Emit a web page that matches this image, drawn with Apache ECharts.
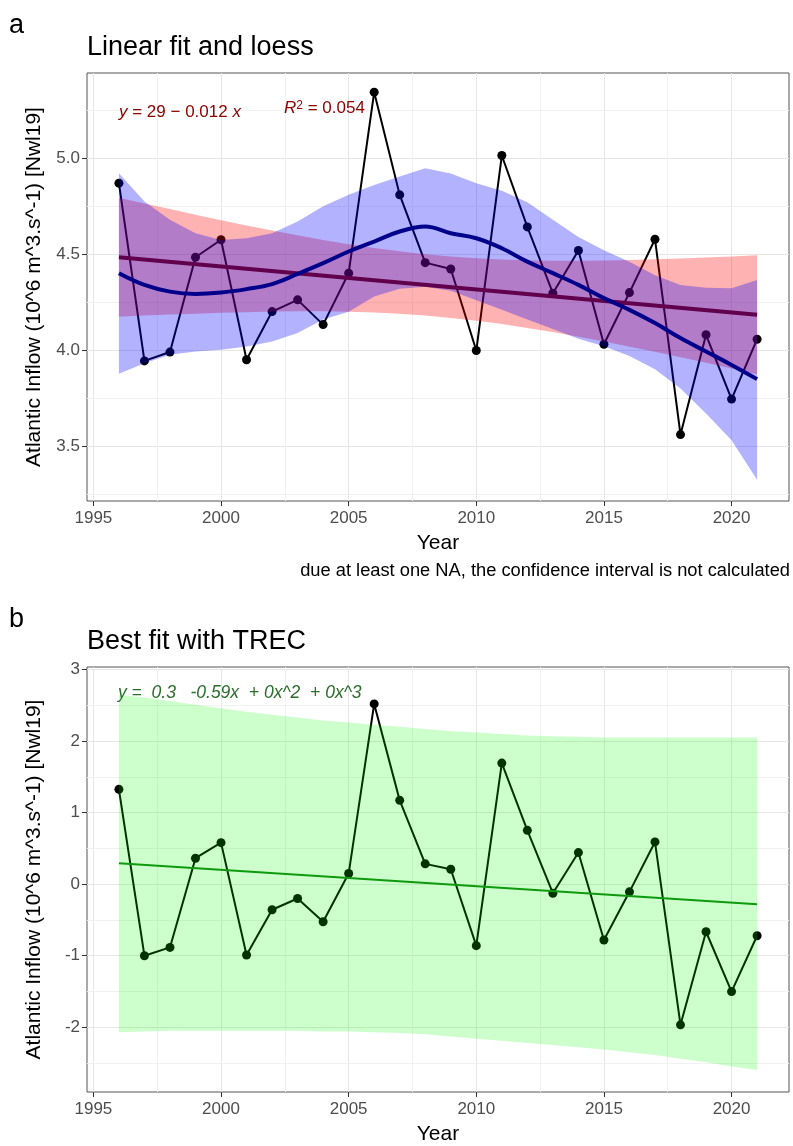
<!DOCTYPE html>
<html>
<head>
<meta charset="utf-8">
<script src="https://cdn.jsdelivr.net/npm/echarts@6/dist/echarts.min.js"></script>
<style>
  html, body { margin: 0; padding: 0; background: #fff; }
  #chart { width: 793px; height: 1146px; }
</style>
</head>
<body>
<div id="chart"></div>
<script>
// years and values
const years = [1996, 1997, 1998, 1999, 2000, 2001, 2002, 2003, 2004, 2005, 2006, 2007, 2008,
  2009, 2010, 2011, 2012, 2013, 2014, 2015, 2016, 2017, 2018, 2019, 2020, 2021]

const inflow = [4.870, 3.944, 3.990, 4.484, 4.575, 3.950, 4.201, 4.262, 4.133, 4.401, 5.344, 4.809, 4.456,
  4.423, 3.998, 5.014, 4.642, 4.297, 4.519, 4.031, 4.300, 4.578, 3.560, 4.080, 3.745, 4.057]

// linear fit end points and its confidence band
const linFitEnds = [[1996, 4.484], [2021, 4.184]]
const linLower = [4.174, 4.180, 4.186, 4.190, 4.195, 4.198, 4.201, 4.202, 4.202, 4.200, 4.196, 4.189, 4.180,
  4.168, 4.153, 4.136, 4.116, 4.094, 4.070, 4.045, 4.018, 3.991, 3.963, 3.934, 3.904, 3.874]
const linUpper = [4.794, 4.764, 4.735, 4.706, 4.677, 4.650, 4.623, 4.598, 4.574, 4.552, 4.532, 4.515, 4.500,
  4.488, 4.479, 4.472, 4.468, 4.466, 4.466, 4.467, 4.470, 4.473, 4.478, 4.483, 4.488, 4.494]

// loess curve and band
const loess = [4.401, 4.340, 4.305, 4.293, 4.300, 4.318, 4.344, 4.397, 4.453, 4.514, 4.566, 4.618, 4.644,
  4.609, 4.583, 4.531, 4.461, 4.401, 4.340, 4.271, 4.210, 4.141, 4.063, 3.993, 3.923, 3.849]
const loessLower = [3.877, 3.932, 3.976, 3.993, 4.002, 4.019, 4.045, 4.089, 4.160, 4.200, 4.280, 4.320, 4.330,
  4.310, 4.260, 4.210, 4.160, 4.110, 4.060, 4.020, 3.970, 3.900, 3.800, 3.670, 3.530, 3.325]
const loessUpper = [4.922, 4.774, 4.679, 4.609, 4.574, 4.583, 4.609, 4.670, 4.750, 4.810, 4.860, 4.905, 4.948,
  4.920, 4.870, 4.830, 4.770, 4.680, 4.590, 4.520, 4.460, 4.390, 4.340, 4.325, 4.323, 4.366]

// panel b: anomalies, TREC fit and band
const anomaly = [1.326, -1.000, -0.884, 0.363, 0.581, -0.991, -0.358, -0.200, -0.525, 0.149, 2.521, 1.172, 0.284,
  0.209, -0.860, 1.693, 0.753, -0.126, 0.442, -0.781, -0.107, 0.591, -1.967, -0.665, -1.502, -0.721]
const trecFitEnds = [[1996, 0.293], [2021, -0.279]]
const trecLower = [-2.07, -2.06, -2.05, -2.05, -2.05, -2.05, -2.05, -2.05, -2.06, -2.06, -2.07, -2.08, -2.10,
  -2.13, -2.16, -2.19, -2.22, -2.25, -2.28, -2.31, -2.35, -2.39, -2.44, -2.49, -2.55, -2.60]
const trecUpper = [2.65, 2.61, 2.56, 2.51, 2.46, 2.41, 2.37, 2.33, 2.29, 2.26, 2.23, 2.20, 2.17,
  2.14, 2.12, 2.10, 2.08, 2.07, 2.06, 2.05, 2.05, 2.05, 2.05, 2.05, 2.05, 2.05]

const xTicks = [1995, 2000, 2005, 2010, 2015, 2020]
const xMinor = [1997.5, 2002.5, 2007.5, 2012.5, 2017.5]
const yTicksA = [3.5, 4.0, 4.5, 5.0]
const yMinorA = [3.25, 3.75, 4.25, 4.75, 5.25]
const yTicksB = [-2, -1, 0, 1, 2, 3]
const yMinorB = [-2.5, -1.5, -0.5, 0.5, 1.5, 2.5]

const FONT = 'Liberation Sans, Arial, sans-serif'
const pairs = (vals) => years.map((y, i) => [y, vals[i]])

function xAxisCfg(gi) {
  return {
    type: 'value', gridIndex: gi, min: 1994.75, max: 2022.25,
    name: 'Year', nameLocation: 'middle', nameGap: 32,
    nameTextStyle: { color: '#000', fontSize: 21, fontFamily: FONT },
    axisLine: { show: false, onZero: false },
    axisTick: { show: true, length: 5, customValues: xTicks, lineStyle: { color: '#333', width: 1 } },
    axisLabel: { customValues: xTicks, color: '#4d4d4d', fontSize: 17, fontFamily: FONT, margin: 9,
      formatter: (v) => String(v) },
    splitLine: { show: true, lineStyle: { color: '#e6e6e6', width: 1 } }
  }
}

function yAxisCfg(gi, min, max, ticks) {
  return {
    type: 'value', gridIndex: gi, min: min, max: max,
    name: 'Atlantic Inflow (10^6 m^3.s^-1) [Nwl19]', nameLocation: 'middle', nameGap: 42,
    nameTextStyle: { color: '#000', fontSize: 21, fontFamily: FONT },
    axisLine: { show: false, onZero: false },
    axisTick: { show: true, length: 5, customValues: ticks, lineStyle: { color: '#333', width: 1 } },
    axisLabel: { customValues: ticks, color: '#4d4d4d', fontSize: 17, fontFamily: FONT, margin: 7,
      formatter: (v) => (gi === 0 ? v.toFixed(1) : String(v)) },
    splitLine: { show: true, lineStyle: { color: '#e6e6e6', width: 1 } }
  }
}

// faint minor grid lines, drawn under everything
function minorGrid(gi, yMinor) {
  return {
    type: 'line', xAxisIndex: gi, yAxisIndex: gi, data: [], silent: true, z: 0,
    markLine: {
      silent: true, symbol: 'none', z: 0, animation: false,
      label: { show: false },
      lineStyle: { color: '#f1f1f1', width: 1, type: 'solid' },
      data: xMinor.map((v) => ({ xAxis: v })).concat(yMinor.map((v) => ({ yAxis: v })))
    }
  }
}

function band(gi, lower, upper, color, z) {
  return {
    type: 'custom', xAxisIndex: gi, yAxisIndex: gi, silent: true, z: z,
    data: [[years[0], lower[0]]],
    renderItem: function (params, api) {
      const pts = []
      for (let i = 0; i < years.length; i++) pts.push(api.coord([years[i], upper[i]]))
      for (let i = years.length - 1; i >= 0; i--) pts.push(api.coord([years[i], lower[i]]))
      return { type: 'polygon', shape: { points: pts }, style: { fill: color } }
    }
  }
}

const chart = echarts.init(document.getElementById('chart'), null, { renderer: 'canvas' })

const titleStyle = { fontSize: 27, fontWeight: 'normal', color: '#000', fontFamily: FONT }

chart.setOption({
  animation: false,
  backgroundColor: '#fff',
  grid: [
    { left: 87, top: 73, width: 702, height: 428, show: true, borderColor: '#555', borderWidth: 1,
      backgroundColor: 'transparent' },
    { left: 87, top: 667, width: 702, height: 426, show: true, borderColor: '#555', borderWidth: 1,
      backgroundColor: 'transparent' }
  ],
  title: [
    { text: 'a', left: 9, top: 12, padding: 0, textStyle: titleStyle },
    { text: 'Linear fit and loess', left: 87, top: 34, padding: 0, textStyle: titleStyle },
    { text: 'b', left: 9, top: 606, padding: 0, textStyle: titleStyle },
    { text: 'Best fit with TREC', left: 87, top: 628, padding: 0, textStyle: titleStyle }
  ],
  xAxis: [xAxisCfg(0), xAxisCfg(1)],
  yAxis: [yAxisCfg(0, 3.214, 5.444, yTicksA), yAxisCfg(1, -2.906, 3.037, yTicksB)],
  series: [
    minorGrid(0, yMinorA),
    minorGrid(1, yMinorB),
    // panel a
    {
      type: 'line', xAxisIndex: 0, yAxisIndex: 0, data: pairs(inflow), z: 1,
      symbol: 'circle', symbolSize: 9, showAllSymbol: true,
      lineStyle: { color: '#000', width: 2 }, itemStyle: { color: '#000' }
    },
    band(0, linLower, linUpper, 'rgba(255,0,0,0.3)', 2),
    {
      type: 'line', xAxisIndex: 0, yAxisIndex: 0, data: linFitEnds, symbol: 'none', z: 3,
      lineStyle: { color: '#8b0000', width: 4 }
    },
    band(0, loessLower, loessUpper, 'rgba(0,0,255,0.3)', 4),
    {
      type: 'line', xAxisIndex: 0, yAxisIndex: 0, data: pairs(loess), symbol: 'none', smooth: 0.4, z: 5,
      lineStyle: { color: '#00008b', width: 4 }
    },
    // panel b
    {
      type: 'line', xAxisIndex: 1, yAxisIndex: 1, data: pairs(anomaly), z: 1,
      symbol: 'circle', symbolSize: 9, showAllSymbol: true,
      lineStyle: { color: '#000', width: 2 }, itemStyle: { color: '#000' }
    },
    band(1, trecLower, trecUpper, 'rgba(0,255,0,0.2)', 2),
    {
      type: 'line', xAxisIndex: 1, yAxisIndex: 1, data: trecFitEnds, symbol: 'none', z: 3,
      lineStyle: { color: '#0f990f', width: 2 }
    }
  ],
  graphic: [
    {
      type: 'text', left: 119, top: 104, silent: true, z: 20,
      style: {
        text: '{i|y} = 29 − 0.012 {i|x}',
        fill: '#8b0000', fontSize: 17, fontFamily: FONT,
        rich: { i: { fontStyle: 'italic', fontSize: 17, fill: '#8b0000', fontFamily: FONT } }
      }
    },
    {
      type: 'text', left: 284, top: 100, silent: true, z: 20,
      style: {
        text: '{i|R}{s|2} = 0.054',
        fill: '#8b0000', fontSize: 17, fontFamily: FONT,
        rich: {
          i: { fontStyle: 'italic', fontSize: 17, fill: '#8b0000', fontFamily: FONT },
          s: { fontSize: 12, fill: '#8b0000', verticalAlign: 'top', fontFamily: FONT }
        }
      }
    },
    {
      type: 'text', right: 3, top: 562, silent: true, z: 20,
      style: { text: 'due at least one NA, the confidence interval is not calculated', fill: '#000', fontSize: 18.3, fontFamily: FONT }
    },
    {
      type: 'text', left: 118, top: 684, silent: true, z: 20,
      style: { text: 'y =  0.3   -0.59x  + 0x^2  + 0x^3', fill: '#2b6e2b', fontSize: 17.5, fontStyle: 'italic', fontFamily: FONT }
    }
  ]
})
</script>
</body>
</html>
